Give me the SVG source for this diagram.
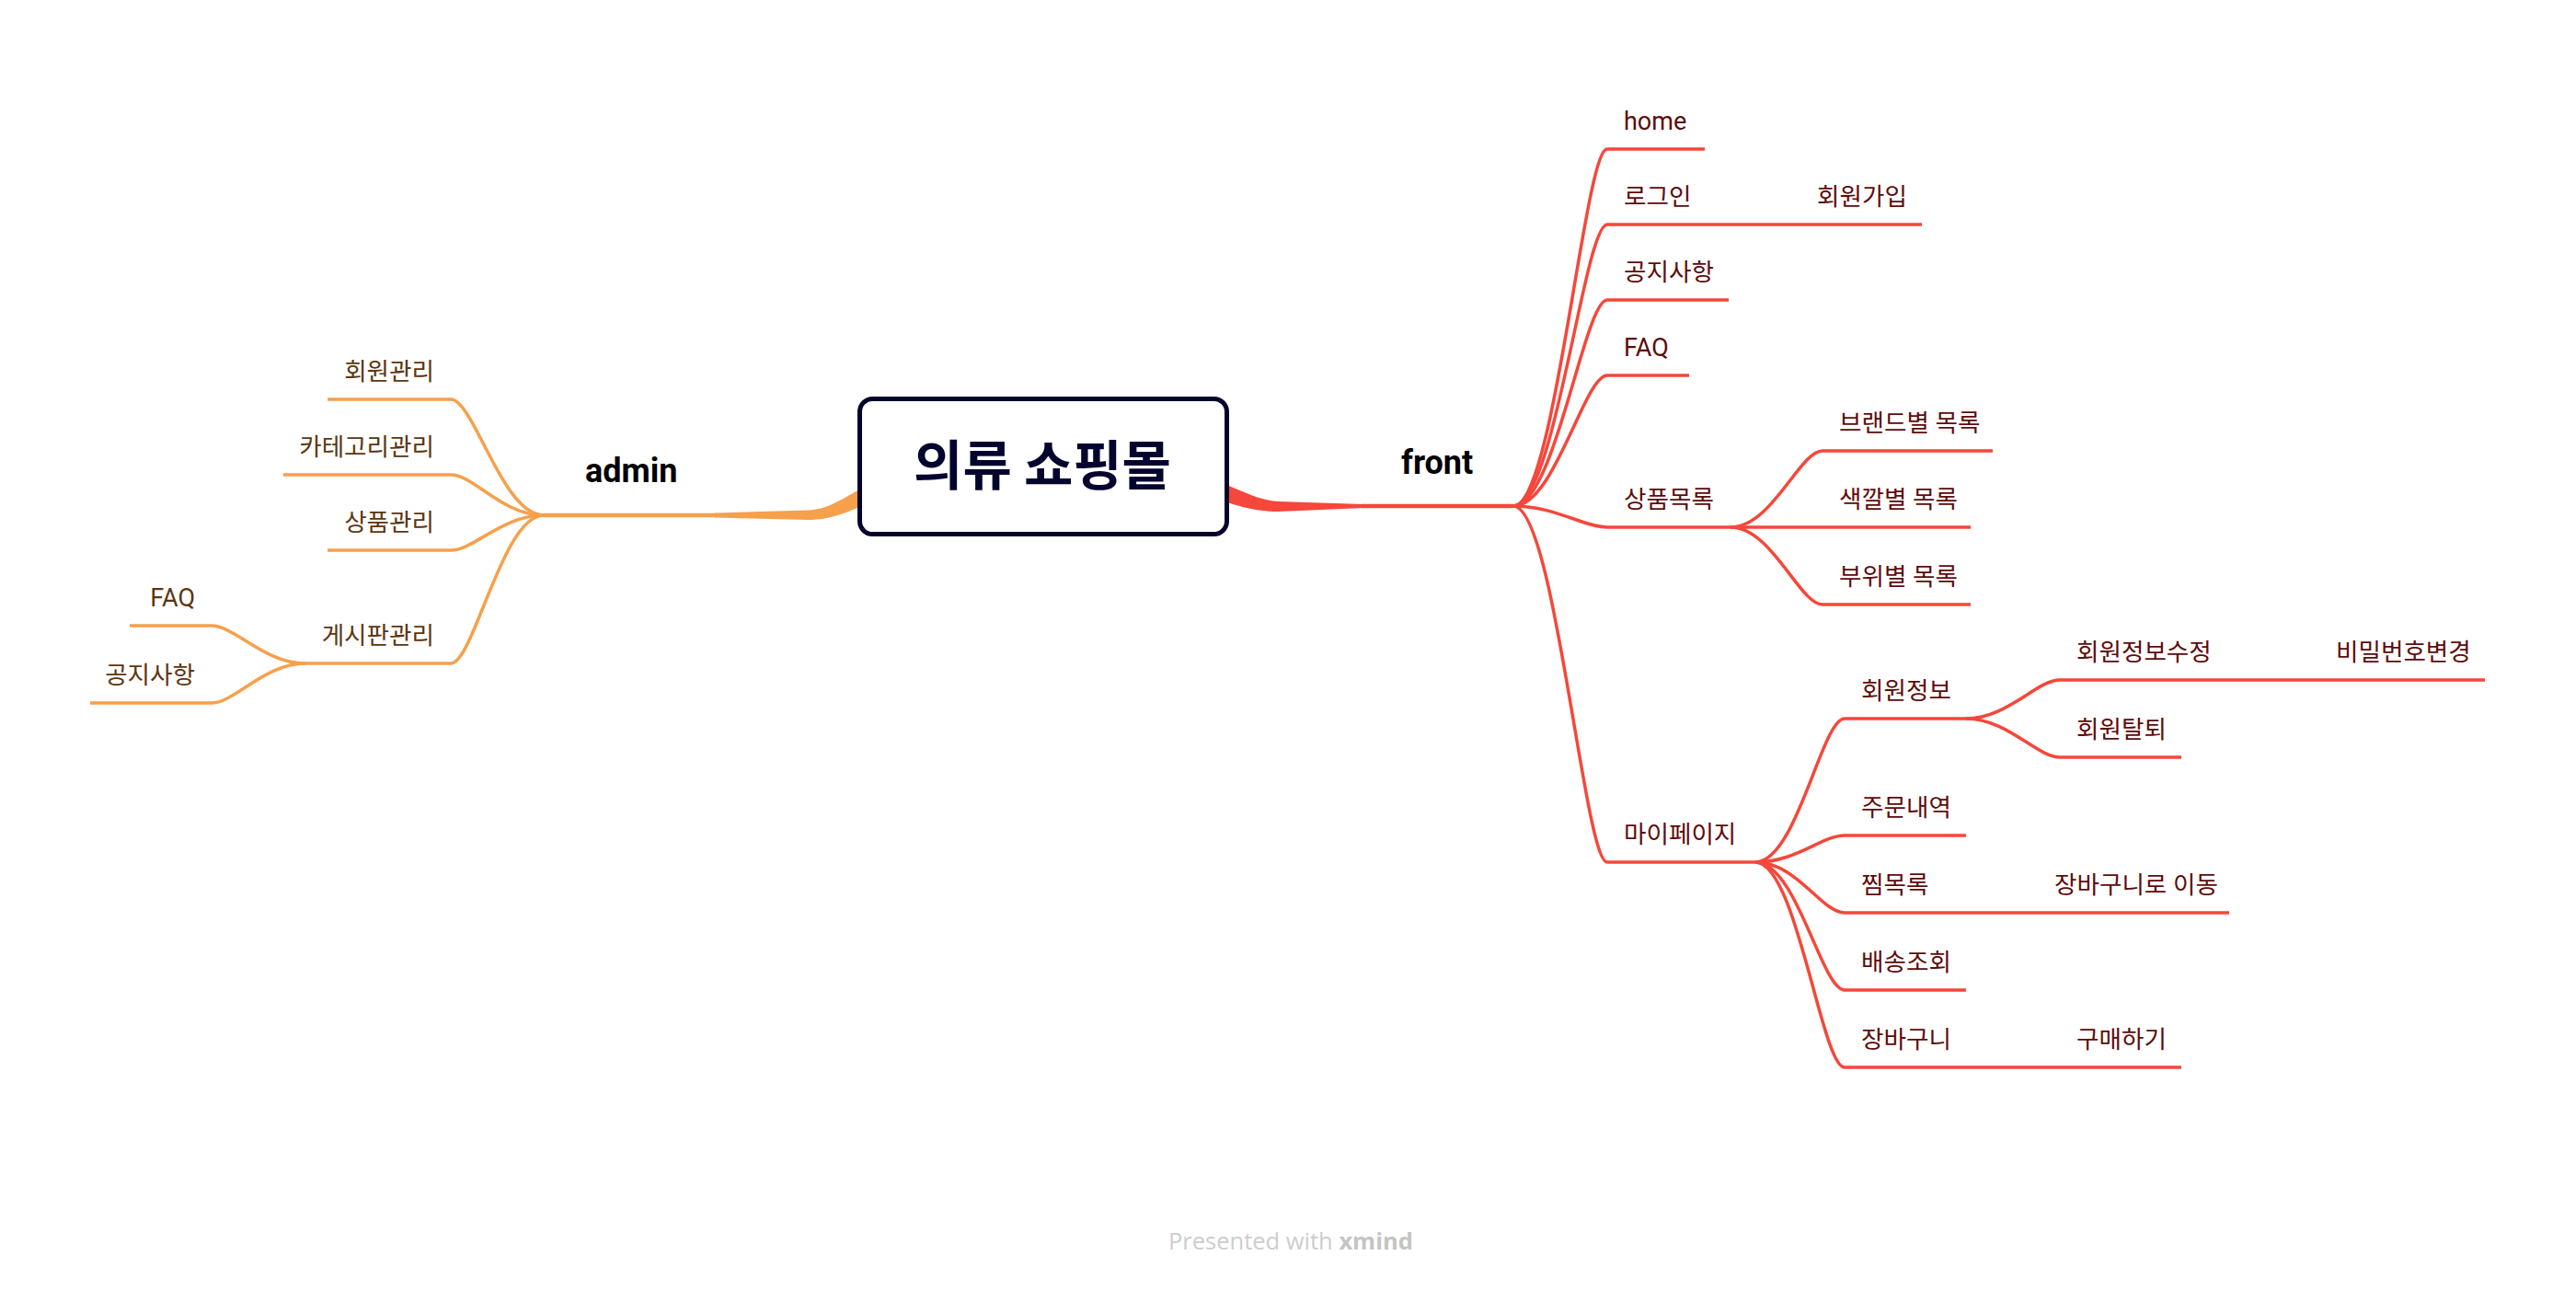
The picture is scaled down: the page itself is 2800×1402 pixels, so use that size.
<svg xmlns="http://www.w3.org/2000/svg" width="2800" height="1402" viewBox="0 0 2800 1402">
<style>
.r{fill:none;stroke:#F5473B;stroke-width:3.5;stroke-linecap:butt}
.o{fill:none;stroke:#F6A04C;stroke-width:3.5;stroke-linecap:butt}
.r1{fill:none;stroke:#F5473B;stroke-width:4.5}
.o1{fill:none;stroke:#F6A04C;stroke-width:4.5}
.kr{font-family:Roboto,"Noto Sans CJK KR",sans-serif;font-size:26.6px;fill:#5E0B0B}
.la{font-family:Roboto,"Noto Sans CJK KR",sans-serif;font-size:27px;fill:#5E0B0B}
.kl{font-family:Roboto,"Noto Sans CJK KR",sans-serif;font-size:26.6px;fill:#5C3610;text-anchor:end}
.ll{font-family:Roboto,"Noto Sans CJK KR",sans-serif;font-size:27px;fill:#5C3610;text-anchor:end}
.main{font-family:Roboto,"Noto Sans CJK KR",sans-serif;font-size:36px;font-weight:bold;fill:#000}
.center{font-family:"Noto Sans CJK KR",sans-serif;font-size:58px;font-weight:bold;fill:#04052E;text-anchor:middle}
.wm{font-family:"Open Sans",sans-serif;font-size:25.5px;fill:#CDCDCD}
</style>
<rect width="2800" height="1402" fill="#fff"/>
<g id="connectors">
<path d="M1330 526 C1350 533 1368 544 1390 545 L1482 548 L1482 552 L1390 556 C1362 556 1345 549 1330 545 Z" fill="#F5473B"/>
<path d="M938 530 C915 542 900 554 878 554.5 L777 557.5 L777 562.5 L878 565 C905 565 920 556 938 550 Z" fill="#F6A04C"/>
<path class="r1" d="M1480 550 H1645"/>
<path class="o1" d="M779 560 H591"/>
<path class="r" d="M1645 550 C1690 550 1722 162 1747 162 H1853"/>
<path class="r" d="M1645 550 C1690 550 1722 244 1747 244 H2089"/>
<path class="r" d="M1645 550 C1690 550 1722 326 1747 326 H1879"/>
<path class="r" d="M1645 550 C1690 550 1722 408 1747 408 H1836"/>
<path class="r" d="M1645 550 C1690 550 1722 573 1747 573 H1881"/>
<path class="r" d="M1645 550 C1690 550 1722 937 1747 937 H1908"/>
<path class="r" d="M1881 573 C1926 573 1956 490 1981 490 H2166"/>
<path class="r" d="M1881 573 H2142"/>
<path class="r" d="M1881 573 C1926 573 1956 657 1981 657 H2142"/>
<path class="r" d="M1908 937 C1953 937 1980 781 2005 781 H2137"/>
<path class="r" d="M1908 937 C1953 937 1980 908 2005 908 H2137"/>
<path class="r" d="M1908 937 C1953 937 1980 992 2005 992 H2423"/>
<path class="r" d="M1908 937 C1953 937 1980 1076 2005 1076 H2137"/>
<path class="r" d="M1908 937 C1953 937 1980 1160 2005 1160 H2371"/>
<path class="r" d="M2137 781 C2182 781 2214 739 2239 739 H2701"/>
<path class="r" d="M2137 781 C2182 781 2214 823 2239 823 H2371"/>
<path class="o" d="M591 560 C546 560 515 434 490 434 H356"/>
<path class="o" d="M591 560 C546 560 515 516 490 516 H308"/>
<path class="o" d="M591 560 C546 560 515 598 490 598 H356"/>
<path class="o" d="M591 560 C546 560 515 721 490 721 H332"/>
<path class="o" d="M332 721 C287 721 255 680 230 680 H141"/>
<path class="o" d="M332 721 C287 721 255 764 230 764 H98"/>
</g>
<g id="root">
<rect x="934.5" y="433.5" width="399" height="147" rx="14" fill="#fff" stroke="#03042C" stroke-width="5"/>
<text class="center" x="1133" y="527">의류 쇼핑몰</text>
</g>
<g id="front"><text class="main" x="1523" y="515">front</text></g>
<g id="home"><text class="la" x="1765" y="141">home</text></g>
<g id="login"><text class="kr" x="1765" y="223">로그인</text></g>
<g id="signup"><text class="kr" x="1975" y="223">회원가입</text></g>
<g id="notice"><text class="kr" x="1765" y="305">공지사항</text></g>
<g id="faq"><text class="la" x="1765" y="387">FAQ</text></g>
<g id="products"><text class="kr" x="1765" y="552">상품목록</text></g>
<g id="by-brand"><text class="kr" x="1999" y="469">브랜드별 목록</text></g>
<g id="by-color"><text class="kr" x="1999" y="552">색깔별 목록</text></g>
<g id="by-part"><text class="kr" x="1999" y="636">부위별 목록</text></g>
<g id="mypage"><text class="kr" x="1765" y="916">마이페이지</text></g>
<g id="member-info"><text class="kr" x="2023" y="760">회원정보</text></g>
<g id="member-edit"><text class="kr" x="2257" y="718">회원정보수정</text></g>
<g id="password-change"><text class="kr" x="2539" y="718">비밀번호변경</text></g>
<g id="member-leave"><text class="kr" x="2257" y="802">회원탈퇴</text></g>
<g id="orders"><text class="kr" x="2023" y="887">주문내역</text></g>
<g id="wishlist"><text class="kr" x="2023" y="971">찜목록</text></g>
<g id="to-cart"><text class="kr" x="2233" y="971">장바구니로 이동</text></g>
<g id="delivery"><text class="kr" x="2023" y="1055">배송조회</text></g>
<g id="cart"><text class="kr" x="2023" y="1139">장바구니</text></g>
<g id="buy"><text class="kr" x="2257" y="1139">구매하기</text></g>
<g id="admin"><text class="main" x="636" y="524">admin</text></g>
<g id="member-manage"><text class="kl" x="472" y="413">회원관리</text></g>
<g id="category-manage"><text class="kl" x="472" y="495">카테고리관리</text></g>
<g id="product-manage"><text class="kl" x="472" y="577">상품관리</text></g>
<g id="board-manage"><text class="kl" x="472" y="700">게시판관리</text></g>
<g id="admin-faq"><text class="ll" x="212" y="659">FAQ</text></g>
<g id="admin-notice"><text class="kl" x="212" y="743">공지사항</text></g>
<text class="wm" x="1270" y="1358">Presented with <tspan font-weight="bold" fill="#C4C4C4">xmind</tspan></text>
</svg>
